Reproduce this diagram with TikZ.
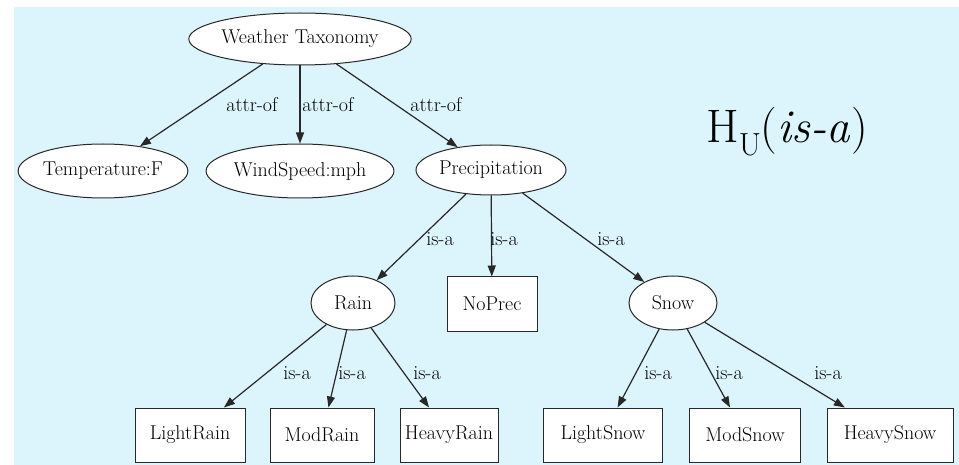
\documentclass[tikz,border=0pt]{standalone}
\usetikzlibrary{shapes.geometric,arrows.meta}
\definecolor{skyback}{RGB}{220,244,251}
\definecolor{inkline}{RGB}{40,40,40}
\begin{document}
\begin{tikzpicture}[x=1pt,y=-1pt,
  every node/.style={font=\rmfamily\fontsize{20}{24}\selectfont, text=black},
  oval/.style={ellipse, draw=inkline, line width=1pt, fill=white, inner sep=0pt},
  leaf/.style={rectangle, draw=inkline, line width=1pt, fill=white, inner sep=0pt, minimum height=54pt},
  lbl/.style={inner sep=0pt},
  link/.style={draw=inkline, line width=1.2pt, -{Triangle[length=11pt,width=8pt]}}
]
% canvas
\fill[white] (0,0) rectangle (959,465);
\useasboundingbox (0,0) rectangle (959,465);
\fill[skyback] (14,7) rectangle (959,465);

% top level
\node[oval, minimum width=204pt, minimum height=52pt] (wt) at (300,39) {Weather Taxonomy};
\node[oval, minimum width=164pt, minimum height=54pt] (temp) at (103,171) {Temperature:F};
\node[oval, minimum width=176pt, minimum height=54pt] (wind) at (300,171) {WindSpeed:mph};
\node[oval, minimum width=150pt, minimum height=50pt] (prec) at (491,170) {Precipitation};

% second level
\node[oval, minimum width=84pt, minimum height=54pt] (rain) at (353,303) {Rain};
\node[leaf, minimum width=90pt] (noprec) at (492,304) {NoPrec};
\node[oval, minimum width=88pt, minimum height=54pt] (snow) at (673,303) {Snow};

% leaves
\node[leaf, minimum width=110pt] (lrain) at (190,435) {LightRain};
\node[leaf, minimum width=104pt] (mrain) at (322,435) {ModRain};
\node[leaf, minimum width=98pt]  (hrain) at (449,435) {HeavyRain};
\node[leaf, minimum width=119pt] (lsnow) at (603,435) {LightSnow};
\node[leaf, minimum width=111pt] (msnow) at (745,435) {ModSnow};
\node[leaf, minimum width=126pt] (hsnow) at (890,435) {HeavySnow};

% connectors
\draw[link] (wt) -- (temp);
\draw[link] (wt) -- (wind);
\draw[link] (wt) -- (prec);
\draw[link] (prec) -- (rain);
\draw[link] (prec) -- (noprec);
\draw[link] (prec) -- (snow);
\draw[link] (rain) -- (lrain);
\draw[link] (rain) -- (mrain);
\draw[link] (rain) -- (hrain);
\draw[link] (snow) -- (lsnow);
\draw[link] (snow) -- (msnow);
\draw[link] (snow) -- (hsnow);

% edge labels
\node[lbl] (l1) at (252,105) {attr-of};
\node[lbl] (l2) at (328,105) {attr-of};
\node[lbl] (l3) at (436,105) {attr-of};
\node[lbl] (l4) at (440,239) {is-a};
\node[lbl] (l5) at (504,239) {is-a};
\node[lbl] (l6) at (611,239) {is-a};
\node[lbl] (l7) at (297,373) {is-a};
\node[lbl] (l8) at (352,373) {is-a};
\node[lbl] (l9) at (427,373) {is-a};
\node[lbl] (l10) at (658,373) {is-a};
\node[lbl] (l11) at (729,373) {is-a};
\node[lbl] (l12) at (828,373) {is-a};

% hierarchy title
\node[lbl, anchor=base west, font=\rmfamily\fontsize{47}{50}\selectfont] (title) at (706,143)
  {H\raisebox{-0.27em}{\fontsize{32}{32}\selectfont U}(\textit{is-a})};
\end{tikzpicture}
\end{document}
